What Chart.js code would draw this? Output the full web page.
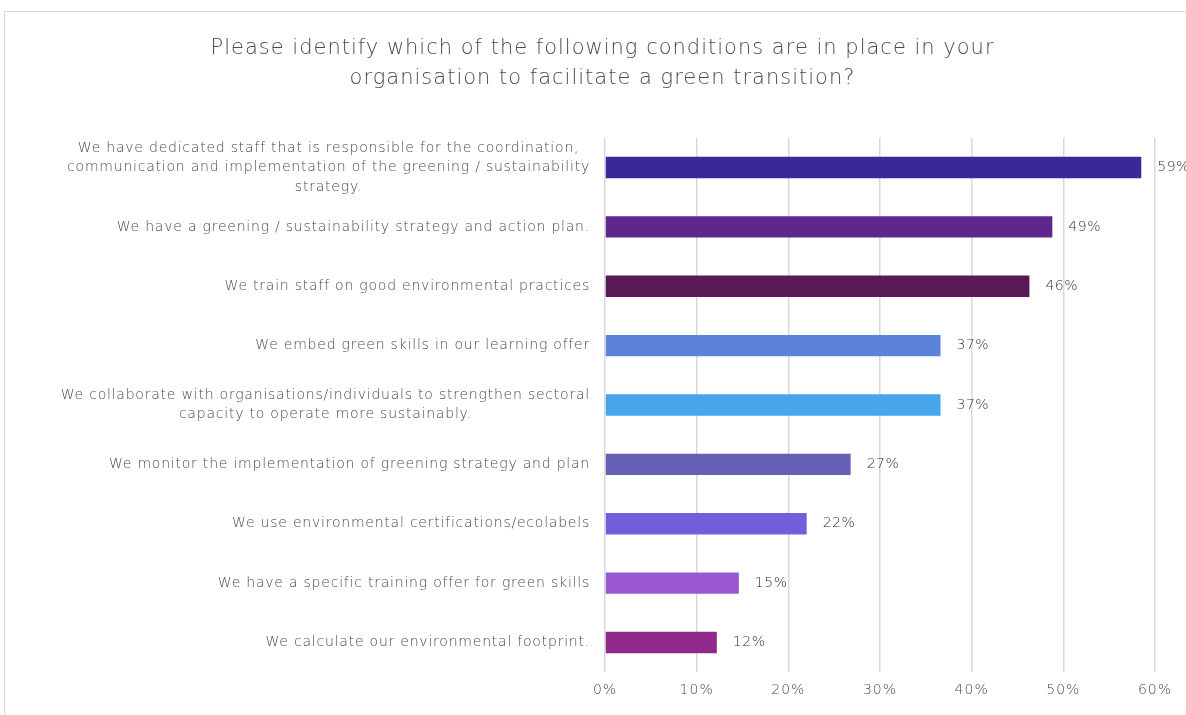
<!DOCTYPE html>
<html>
<head>
<meta charset="utf-8">
<script src="https://cdn.jsdelivr.net/npm/chart.js@4.4.1/dist/chart.umd.min.js"></script>
<style>
  html, body { margin: 0; padding: 0; background: #fff; overflow: hidden; }
  #wrap { position: absolute; left: 0; top: 0; width: 1186px; height: 715px; }
  #frame { position: absolute; left: 4px; top: 11px; width: 1400px; height: 900px;
           border: 1px solid #d9d9d9; pointer-events: none; }
</style>
</head>
<body>
<div id="frame"></div>
<div id="wrap"><canvas id="myChart"></canvas></div>
<script>
const condicoes = [
  ["We have dedicated staff that is responsible for the coordination,",
   "communication and implementation of the greening / sustainability",
   "strategy."],
  ["We have a greening / sustainability strategy and action plan."],
  ["We train staff on good environmental practices"],
  ["We embed green skills in our learning offer"],
  ["We collaborate with organisations/individuals to strengthen sectoral",
   "capacity to operate more sustainably."],
  ["We monitor the implementation of greening strategy and plan"],
  ["We use environmental certifications/ecolabels"],
  ["We have a specific training offer for green skills"],
  ["We calculate our environmental footprint."]
];
const percentuais = [58.5, 48.8, 46.3, 36.6, 36.6, 26.8, 22.0, 14.6, 12.2];
const coresBarras = ['#3b2896', '#5d278e', '#581a56', '#5a83d9', '#46a6eb',
                     '#675fb6', '#745dd9', '#9b56d2', '#8f2a8c'];
const tituloLinhas = ["Please identify which of the following conditions are in place in your",
                      "organisation to facilitate a green transition?"];

const fonte = "'DejaVu Sans', sans-serif";
const corTexto = '#4a4a4a';

// espacamento entre letras (fonte larga)
const espacamento = {
  id: 'espacamento',
  beforeDraw(chart) { chart.ctx.letterSpacing = '1px'; }
};

// rotulos do eixo y: linhas centradas entre si, bloco alinhado a direita
const rotulosEixoY = {
  id: 'rotulosEixoY',
  afterDraw(chart) {
    const ctx = chart.ctx;
    const y = chart.scales.y;
    const direita = chart.chartArea.left - 15;
    const alturaLinha = 19.5;
    ctx.save();
    ctx.font = '200 14px ' + fonte;
    ctx.letterSpacing = '0.78px';
    ctx.fillStyle = corTexto;
    ctx.textAlign = 'center';
    ctx.textBaseline = 'middle';
    condicoes.forEach((linhas, i) => {
      const cy = y.getPixelForTick(i);
      const larg = Math.max(...linhas.map(l => ctx.measureText(l).width));
      const cx = direita - larg / 2;
      const y0 = cy - (linhas.length - 1) * alturaLinha / 2;
      linhas.forEach((l, k) => ctx.fillText(l, cx, y0 + k * alturaLinha));
    });
    ctx.restore();
  }
};

// valores ao fim de cada barra
const rotulosValores = {
  id: 'rotulosValores',
  afterDatasetsDraw(chart) {
    const ctx = chart.ctx;
    const meta = chart.getDatasetMeta(0);
    ctx.save();
    ctx.font = '200 14px ' + fonte;
    ctx.letterSpacing = '0.5px';
    ctx.fillStyle = '#333333';
    ctx.textAlign = 'left';
    ctx.textBaseline = 'middle';
    meta.data.forEach((bar, i) => {
      ctx.fillText(Math.round(percentuais[i]) + '%', bar.x + 16, bar.y);
    });
    ctx.restore();
  }
};

const ctx1 = document.getElementById('myChart').getContext('2d');
new Chart(ctx1, {
  type: 'bar',
  data: {
    labels: condicoes.map(l => l.join(' ')),
    datasets: [{
      data: percentuais,
      backgroundColor: coresBarras,
      categoryPercentage: 1,
      barPercentage: 0.36
    }]
  },
  options: {
    indexAxis: 'y',
    responsive: true,
    maintainAspectRatio: false,
    animation: false,
    layout: { padding: { left: 50, right: 31, top: 34, bottom: 6 } },
    plugins: {
      legend: { display: false },
      tooltip: { enabled: false },
      title: {
        display: true,
        text: tituloLinhas,
        color: corTexto,
        font: { family: fonte, size: 21, weight: '200', lineHeight: 1.4 },
        padding: { top: 0, bottom: 45 }
      }
    },
    scales: {
      x: {
        min: 0,
        max: 60,
        ticks: {
          stepSize: 10,
          padding: 10,
          color: corTexto,
          font: { family: fonte, size: 14, weight: '200' },
          callback: v => v + '%'
        },
        grid: { color: '#d9d9d9', lineWidth: 1.5, drawTicks: false },
        border: { display: false }
      },
      y: {
        ticks: { display: false },
        grid: { display: false },
        border: { display: false },
        afterFit(scale) { scale.width = 555; }
      }
    }
  },
  plugins: [espacamento, rotulosEixoY, rotulosValores]
});
</script>
</body>
</html>
